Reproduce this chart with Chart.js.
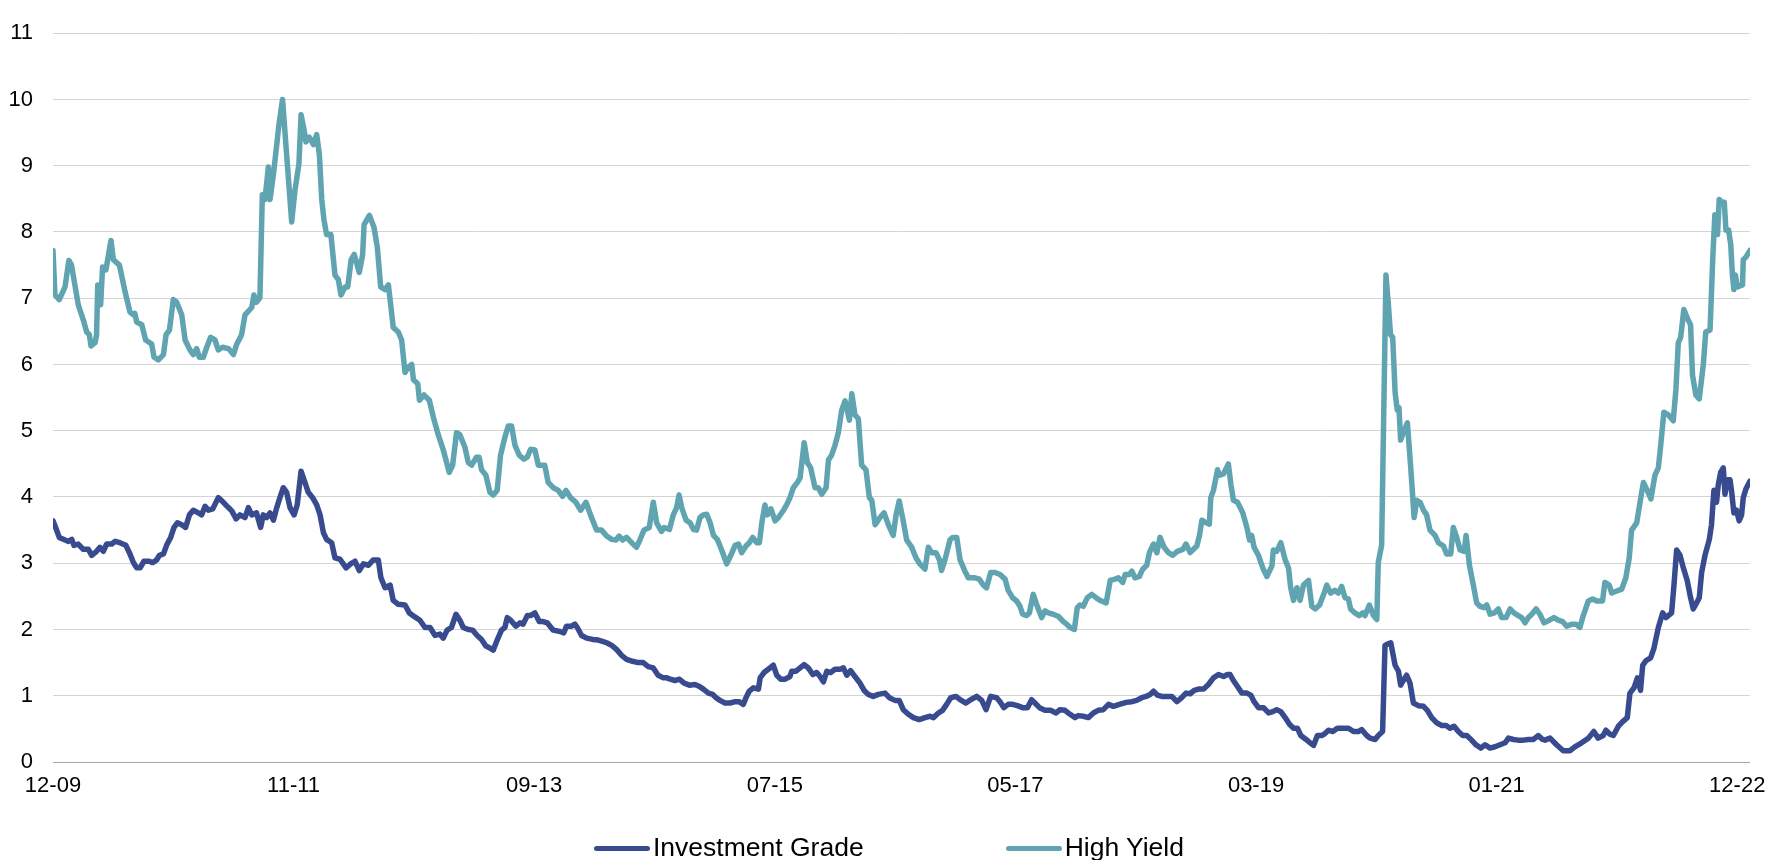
<!DOCTYPE html>
<html>
<head>
<meta charset="utf-8">
<script src="https://cdn.jsdelivr.net/npm/chart.js@4.4.1/dist/chart.umd.min.js"></script>
<style>
  html, body { margin: 0; padding: 0; background: #fff; }
  #wrap { position: relative; width: 1767px; height: 860px; }
  #legend { position: absolute; left: 594px; top: 832px; height: 30px; display: flex; align-items: center;
            font-family: "Liberation Sans", Arial, sans-serif; font-size: 26.5px; color: #000; }
  .item { display: flex; align-items: center; margin-right: 142px; }
  .item:last-child { margin-right: 0; }
  .swatch { width: 56px; height: 5px; border-radius: 3px; margin-right: 3px; margin-top: 2px; }
</style>
</head>
<body>
<div id="wrap">
  <canvas id="myChart" width="1767" height="860"></canvas>
  <div id="legend"></div>
</div>
<script>
// x = week index from 12-09 (tick labels every 100 weeks)
const tickLabels = ["12-09", "11-11", "09-13", "07-15", "05-17", "03-19", "01-21", "12-22"];
const lastWeek = 705.3;

// Investment Grade
const igWeeks = [
  0, 1.5, 2.6, 5, 6.4, 7.8, 8.7, 10.5, 12.6, 14.7, 16.1, 18.1, 19.5, 20.9, 22.3, 24.4, 25.8, 27.8, 30.3, 32,
  33.4, 34.8, 36.2, 37.8, 40, 41.4, 43.1, 44.2, 45.9, 47.2, 48.9, 50.3, 51.7, 53.5, 55.1, 56.7, 58.3, 60.4, 61.8, 63.2,
  64.6, 66.4, 68.7, 70.8, 72.9, 74.3, 76.1, 77.7, 79.8, 81.2, 82.6, 84.6, 86.3, 87.4, 88.8, 90.2, 91.6, 93, 94.3, 95.7,
  97.1, 98.5, 100.2, 101.5, 103.1, 104.7, 106.1, 107.9, 109.6, 111, 112.4, 113.7, 115.8, 117.2, 119.3, 121.8, 123.7, 125.5, 127.3, 129,
  131.1, 133.1, 135.2, 136.3, 138, 140.1, 141.4, 143.5, 146.3, 148.1, 150.4, 152.5, 154.6, 156.7, 158.8, 160.8, 162.2, 163.8, 165.6, 167.5,
  169.1, 170.5, 172.6, 174.4, 176.3, 178.1, 179.9, 181.6, 183, 184.6, 186.4, 187.8, 188.8, 190.2, 192.4, 194.1, 195.4, 197.1, 198.5, 200.3,
  202.1, 203.7, 205.4, 207.9, 210.7, 212.3, 213.4, 215.5, 216.9, 217.9, 219.7, 221.8, 224.3, 226.6, 228.4, 230.1, 232.2, 234.2, 236.3, 238.4,
  240.9, 243.2, 245.3, 247.4, 249.5, 251.5, 253.7, 255.1, 256.5, 258.5, 260.3, 262.3, 264.5, 266.8, 268.7, 270.3, 272.4, 274.2, 275.6, 277.2,
  279.3, 281.4, 283.5, 285.1, 286.9, 288, 289.4, 291.1, 293.2, 293.9, 295.5, 297.3, 299.4, 300.8, 302.5, 304.3, 306.3, 307, 308.8, 310.5,
  312.2, 313.9, 315.8, 317.4, 318.8, 320.2, 321.6, 323.2, 325, 327.1, 328.5, 329.9, 331.5, 333.3, 335.4, 337.1, 338.9, 340.9, 343, 345.8,
  347.6, 349.9, 351.7, 353.4, 355.5, 357.6, 360, 362.4, 364.5, 365.9, 368, 369.7, 371.4, 373.1, 375.3, 377, 379.4, 381.4, 383.9, 386,
  387.8, 389.7, 392.2, 393.6, 395.2, 397, 398.8, 400.8, 403, 405, 406.7, 408.1, 410, 412.3, 414.6, 416.9, 418.5, 420.6, 422.7, 424.7,
  426.1, 428.2, 430.3, 432.4, 434.4, 436.5, 438.7, 440.7, 443.2, 446, 448.4, 450.4, 452.5, 454.3, 456, 457.4, 459, 460.8, 462.9, 465,
  467.1, 469.1, 470.9, 472.6, 474.3, 476.1, 478.2, 480.2, 482.3, 484.4, 486.5, 488.1, 489.2, 490.6, 492.3, 494.1, 496.2, 497.8, 499.2, 501,
  503.1, 505.2, 507, 508.6, 510.3, 512.1, 513.9, 515.6, 517.2, 518.6, 520.8, 522.5, 523.9, 525.5, 527.3, 528.3, 530.1, 531.9, 533.8, 536,
  538.4, 540.5, 542.5, 543.9, 546, 547.4, 549.5, 550.8, 552.6, 553.6, 554.7, 556, 557.8, 559.2, 560.1, 561.2, 562.6, 564, 565.4, 567.5,
  569.6, 571.2, 573, 575.1, 577.2, 579, 580.6, 582.3, 584.1, 585.9, 587.6, 589.6, 591.4, 593.4, 595.2, 597.3, 599.3, 601.4, 603.5, 604.9,
  607, 609, 611.1, 613.2, 615.3, 617.3, 619.1, 620.1, 622.2, 624.9, 627.7, 630.5, 632.5, 635.3, 638.1, 640.4, 642.2, 644.3, 645.4, 647.1,
  648.5, 650.6, 652.4, 654.3, 655.4, 657.1, 658.5, 659.8, 660.7, 662.1, 664, 665.4, 667.2, 669, 670.4, 672.7, 673.7, 674.8, 676.2, 677.6,
  679.2, 680.6, 681.7, 683.1, 684.2, 685.2, 686.6, 688.4, 689.3, 690.3, 691.4, 692.1, 693.1, 694.2, 694.9, 695.9, 697, 697.7, 698.6, 699.7,
  700.8, 701.8, 702.5, 703.6, 705.3
];
const igSpread = [
  3.64, 3.5, 3.39, 3.35, 3.33, 3.36, 3.27, 3.29, 3.21, 3.21, 3.12, 3.18, 3.24, 3.18, 3.29, 3.29, 3.33, 3.31, 3.27, 3.14,
  3.01, 2.93, 2.93, 3.03, 3.03, 3.01, 3.05, 3.12, 3.14, 3.27, 3.39, 3.54, 3.61, 3.58, 3.54, 3.73, 3.8, 3.76, 3.73, 3.86,
  3.8, 3.82, 3.99, 3.92, 3.84, 3.79, 3.67, 3.73, 3.69, 3.84, 3.73, 3.76, 3.54, 3.73, 3.69, 3.76, 3.65, 3.84, 3.99, 4.14,
  4.07, 3.84, 3.73, 3.88, 4.39, 4.22, 4.07, 3.99, 3.88, 3.73, 3.46, 3.36, 3.31, 3.08, 3.06, 2.93, 2.99, 3.03, 2.89, 2.99,
  2.97, 3.05, 3.05, 2.78, 2.63, 2.67, 2.44, 2.38, 2.37, 2.25, 2.19, 2.14, 2.03, 2.03, 1.91, 1.93, 1.87, 1.99, 2.03, 2.23,
  2.14, 2.03, 2.0, 1.99, 1.91, 1.85, 1.75, 1.72, 1.69, 1.84, 1.99, 2.03, 2.18, 2.14, 2.05, 2.1, 2.08, 2.21, 2.21, 2.25,
  2.12, 2.12, 2.1, 1.99, 1.97, 1.95, 2.05, 2.05, 2.08, 2.03, 1.91, 1.87, 1.85, 1.84, 1.82, 1.8, 1.76, 1.7, 1.61, 1.55,
  1.52, 1.5, 1.5, 1.44, 1.42, 1.31, 1.27, 1.27, 1.25, 1.23, 1.25, 1.19, 1.16, 1.17, 1.14, 1.1, 1.04, 1.02, 0.97, 0.93,
  0.89, 0.89, 0.91, 0.91, 0.87, 0.97, 1.07, 1.12, 1.1, 1.27, 1.35, 1.4, 1.46, 1.31, 1.25, 1.25, 1.29, 1.37, 1.37, 1.42,
  1.47, 1.42, 1.32, 1.35, 1.29, 1.21, 1.37, 1.35, 1.4, 1.4, 1.42, 1.31, 1.38, 1.29, 1.19, 1.08, 1.02, 0.99, 1.02, 1.04,
  0.97, 0.93, 0.93, 0.79, 0.72, 0.67, 0.64, 0.67, 0.69, 0.67, 0.74, 0.78, 0.87, 0.97, 0.99, 0.94, 0.89, 0.94, 0.99, 0.93,
  0.79, 0.99, 0.97, 0.91, 0.82, 0.87, 0.87, 0.85, 0.82, 0.82, 0.94, 0.89, 0.82, 0.78, 0.78, 0.74, 0.79, 0.78, 0.72, 0.67,
  0.7, 0.69, 0.67, 0.74, 0.78, 0.79, 0.87, 0.84, 0.87, 0.9, 0.91, 0.93, 0.97, 0.99, 1.02, 1.07, 1.01, 0.99, 0.99, 0.99,
  0.91, 0.97, 1.04, 1.03, 1.08, 1.1, 1.1, 1.17, 1.27, 1.32, 1.29, 1.32, 1.32, 1.23, 1.14, 1.04, 1.04, 1.01, 0.91, 0.82,
  0.82, 0.74, 0.76, 0.79, 0.76, 0.67, 0.57, 0.51, 0.51, 0.4, 0.34, 0.29, 0.25, 0.4, 0.4, 0.42, 0.48, 0.46, 0.51, 0.51,
  0.51, 0.46, 0.46, 0.49, 0.4, 0.36, 0.34, 0.4, 0.46, 1.76, 1.78, 1.8, 1.46, 1.37, 1.16, 1.23, 1.31, 1.19, 0.89, 0.85,
  0.84, 0.78, 0.67, 0.59, 0.55, 0.55, 0.51, 0.54, 0.46, 0.4, 0.4, 0.33, 0.26, 0.21, 0.26, 0.21, 0.23, 0.26, 0.29, 0.36,
  0.34, 0.33, 0.33, 0.34, 0.34, 0.4, 0.34, 0.33, 0.36, 0.26, 0.17, 0.17, 0.23, 0.29, 0.36, 0.46, 0.36, 0.4, 0.48, 0.42,
  0.4, 0.54, 0.61, 0.67, 1.04, 1.12, 1.27, 1.08, 1.46, 1.53, 1.57, 1.72, 2.03, 2.25, 2.18, 2.25, 2.67, 3.2, 3.12, 2.93,
  2.74, 2.48, 2.31, 2.4, 2.48, 2.86, 3.12, 3.36, 3.58, 4.1, 3.92, 4.18, 4.37, 4.44, 4.04, 4.26, 4.26, 4.07, 3.76, 3.8,
  3.64, 3.73, 3.99, 4.12, 4.24
];

// High Yield
const hyWeeks = [
  0, 0.8, 2.6, 5, 6.6, 7.7, 10.5, 12.6, 14, 15.1, 15.8, 17.5, 18.1, 18.6, 19.3, 19.8, 20.6, 22, 24.1, 25.1,
  27.6, 30, 32, 33.4, 34, 34.8, 36.9, 38.5, 41, 42, 43.8, 45.9, 47, 48.4, 50, 51.4, 53.5, 54.9, 56.9, 58.3,
  59.7, 60.8, 62.5, 63.9, 65.5, 67.3, 68.7, 70.5, 72.9, 75, 76.3, 78.4, 79.8, 82.6, 83.5, 84.6, 86, 87, 88.1, 89.5,
  90.2, 91.6, 93, 93.9, 95.4, 97.1, 99.2, 100.6, 102.2, 103.1, 104.3, 105.1, 106.5, 108.2, 109.6, 110.7, 111.7, 112.6, 113.7, 115.5,
  117.2, 118.6, 119.7, 121.4, 122.5, 123.9, 125.2, 127.3, 128.7, 129.3, 131.5, 133.4, 134.8, 136.2, 138, 139.4, 140.1, 141.4, 143.5, 144.9,
  146.3, 147.7, 149.1, 149.8, 151.6, 152.3, 154.2, 156.4, 158.1, 160.1, 162.2, 164.7, 166.1, 167.7, 169.1, 171.2, 172.6, 174, 176, 177.1,
  178.1, 179.9, 181.6, 183, 184.6, 186, 187.8, 189.2, 190.6, 192, 193.8, 195.7, 197.1, 198.5, 200.3, 201.7, 203.1, 204.4, 205.8, 207.9,
  210, 211.8, 213.2, 215.1, 217.3, 219.3, 221.5, 223.4, 225.9, 228, 230.1, 232.2, 234, 235.3, 236.7, 238.4, 240.5, 242.5, 243.9, 245.6,
  247.8, 249.5, 250.9, 252.9, 254, 256.2, 257.8, 259.2, 260.2, 261.3, 263.1, 264.8, 266.2, 267.5, 268.9, 270.3, 271.7, 273.1, 274.5, 276.1,
  277.9, 280, 281.7, 283.5, 284.9, 286.2, 288, 289.4, 290.8, 292.5, 293.6, 294.6, 295.9, 296.9, 298.4, 300.1, 301.5, 303.6, 304.9, 306.3,
  307.7, 309.4, 310.5, 312.2, 313.5, 314.9, 316.7, 318.1, 319.5, 321.3, 322.3, 323.6, 325, 326.4, 327.8, 329.2, 331, 332, 333.3, 334.7,
  336.1, 337.9, 339.3, 340.3, 341.7, 343.7, 345.4, 347.2, 349.2, 350.4, 351.7, 353.1, 354.8, 356.9, 358.7, 360.3, 362.4, 363.8, 365.2, 367,
  368.4, 369.3, 370.7, 372.8, 373.9, 375.6, 377, 379, 380.4, 383.2, 385, 386.6, 388, 389.7, 391.5, 393.6, 395.7, 397, 398.8, 400.5,
  401.9, 403, 404.7, 405.8, 407.4, 409.1, 410.9, 412.3, 413.7, 415.7, 417.8, 419.9, 421.3, 422.7, 424.5, 425.7, 426.8, 428.2, 429.9, 431.7,
  433.5, 435.1, 437.7, 439.4, 441.4, 442.8, 444.6, 445.6, 447.4, 448.4, 449.7, 451.5, 452.9, 454.6, 455.7, 457.4, 458.8, 460.1, 461.8, 463.6,
  465.4, 467.3, 469.6, 470.9, 472.6, 474, 475.4, 476.5, 477.5, 479.3, 480.6, 481.2, 482.3, 484, 484.8, 486.5, 488.5, 489.6, 490.6, 492.3,
  494.5, 496.2, 497.3, 498.2, 499.2, 501, 502.8, 504.5, 506.6, 507.2, 508.6, 510.3, 512.1, 513.5, 514.4, 515.6, 517, 518.3, 519.7, 521.8,
  523.2, 524.6, 526.4, 528, 529.4, 531, 532.8, 534.2, 535.6, 537, 538.4, 539.3, 541.1, 542.9, 544.3, 545.3, 547.1, 548.8, 550.2, 550.8,
  552.2, 554, 555, 555.9, 556.8, 557.8, 558.7, 559.4, 560.1, 561.2, 562.9, 564.3, 565.7, 566.8, 568.2, 569.6, 570.9, 572.3, 574.4, 575.8,
  577.9, 579.2, 580.9, 582, 583.4, 584.8, 586.5, 587.3, 588.7, 590.3, 591.7, 593.1, 594.8, 595.9, 597.3, 599, 600.7, 602.1, 603.9, 605.6,
  607.2, 609, 610.4, 611.8, 613.2, 614.6, 616.4, 618, 619.7, 621.9, 623.8, 625.6, 627.4, 629.1, 631.2, 633, 634.6, 636, 638.1, 639.9,
  641.6, 644, 645, 646.8, 647.8, 649.9, 652, 653.7, 655.1, 656.1, 658.2, 659.6, 661, 662.6, 664.1, 665.8, 667.2, 668.2, 669.5, 671.3,
  673.4, 674.5, 675.5, 676.5, 677.8, 679.6, 680.6, 681.4, 682.8, 684.2, 685.9, 686.9, 688.7, 689.8, 690.7, 691.3, 691.8, 692.5, 693.6, 694.6,
  695.3, 696.4, 697.3, 698, 698.6, 699.2, 700.1, 702.2, 702.5, 703.6, 705.3
];
const hySpread = [
  7.72, 7.05, 6.98, 7.17, 7.57, 7.5, 6.9, 6.67, 6.49, 6.45, 6.28, 6.33, 6.45, 7.2, 7.17, 6.9, 7.47, 7.43, 7.87, 7.58,
  7.5, 7.09, 6.79, 6.75, 6.77, 6.64, 6.6, 6.37, 6.31, 6.11, 6.07, 6.15, 6.45, 6.52, 6.98, 6.94, 6.75, 6.37, 6.22, 6.15,
  6.24, 6.11, 6.11, 6.26, 6.41, 6.37, 6.22, 6.26, 6.24, 6.15, 6.3, 6.45, 6.75, 6.86, 7.05, 6.94, 7.01, 8.56, 8.49, 8.98,
  8.49, 8.87, 9.32, 9.62, 10.0, 9.17, 8.15, 8.64, 9.02, 9.77, 9.55, 9.36, 9.43, 9.32, 9.47, 9.17, 8.49, 8.19, 7.96, 7.96,
  7.35, 7.28, 7.05, 7.17, 7.17, 7.58, 7.66, 7.39, 7.66, 8.11, 8.25, 8.07, 7.77, 7.17, 7.13, 7.2, 6.98, 6.56, 6.49, 6.37,
  5.88, 5.96, 6.0, 5.77, 5.71, 5.46, 5.54, 5.46, 5.2, 4.94, 4.71, 4.37, 4.48, 4.97, 4.94, 4.75, 4.52, 4.48, 4.6, 4.6,
  4.41, 4.33, 4.07, 4.03, 4.1, 4.63, 4.9, 5.07, 5.07, 4.78, 4.63, 4.57, 4.6, 4.72, 4.71, 4.48, 4.48, 4.48, 4.22, 4.14,
  4.1, 4.01, 4.1, 3.99, 3.92, 3.8, 3.92, 3.73, 3.5, 3.5, 3.41, 3.36, 3.35, 3.41, 3.35, 3.39, 3.31, 3.24, 3.35, 3.5,
  3.54, 3.92, 3.61, 3.48, 3.54, 3.51, 3.73, 3.84, 4.03, 3.84, 3.65, 3.61, 3.51, 3.5, 3.69, 3.73, 3.74, 3.61, 3.42, 3.36,
  3.2, 2.99, 3.12, 3.27, 3.29, 3.16, 3.26, 3.31, 3.39, 3.31, 3.31, 3.61, 3.88, 3.73, 3.82, 3.64, 3.69, 3.8, 3.88, 3.99,
  4.14, 4.22, 4.29, 4.82, 4.52, 4.44, 4.14, 4.14, 4.04, 4.14, 4.56, 4.63, 4.78, 4.97, 5.31, 5.45, 5.16, 5.56, 5.24, 5.18,
  4.48, 4.41, 3.99, 3.95, 3.58, 3.69, 3.76, 3.58, 3.42, 3.73, 3.94, 3.69, 3.35, 3.24, 3.08, 2.99, 2.91, 3.24, 3.16, 3.16,
  3.05, 2.89, 3.05, 3.35, 3.39, 3.39, 3.05, 2.88, 2.78, 2.78, 2.76, 2.67, 2.63, 2.86, 2.86, 2.83, 2.76, 2.59, 2.48, 2.43,
  2.35, 2.23, 2.21, 2.25, 2.53, 2.35, 2.18, 2.28, 2.25, 2.23, 2.2, 2.12, 2.08, 2.03, 2.0, 2.33, 2.37, 2.35, 2.48, 2.53,
  2.48, 2.44, 2.4, 2.74, 2.76, 2.78, 2.71, 2.83, 2.83, 2.88, 2.78, 2.8, 2.91, 2.97, 3.16, 3.29, 3.16, 3.39, 3.24, 3.16,
  3.12, 3.18, 3.21, 3.29, 3.16, 3.21, 3.26, 3.42, 3.65, 3.61, 3.59, 3.99, 4.1, 4.41, 4.33, 4.35, 4.5, 4.18, 3.95, 3.92,
  3.76, 3.54, 3.35, 3.42, 3.24, 3.12, 2.93, 2.8, 2.96, 3.2, 3.18, 3.31, 3.05, 2.93, 2.63, 2.44, 2.63, 2.44, 2.67, 2.74,
  2.35, 2.31, 2.37, 2.52, 2.67, 2.55, 2.59, 2.55, 2.65, 2.48, 2.46, 2.31, 2.25, 2.21, 2.25, 2.21, 2.37, 2.21, 2.15, 3.01,
  3.27, 7.35, 6.9, 6.45, 6.41, 5.58, 5.31, 5.35, 4.86, 4.97, 5.12, 4.44, 3.69, 3.95, 3.92, 3.8, 3.73, 3.5, 3.42, 3.31,
  3.26, 3.14, 3.14, 3.54, 3.39, 3.2, 3.18, 3.42, 2.97, 2.67, 2.4, 2.35, 2.33, 2.37, 2.23, 2.25, 2.31, 2.18, 2.18, 2.31,
  2.25, 2.21, 2.18, 2.1, 2.18, 2.23, 2.31, 2.23, 2.1, 2.14, 2.18, 2.14, 2.12, 2.05, 2.08, 2.08, 2.03, 2.21, 2.43, 2.46,
  2.43, 2.43, 2.71, 2.67, 2.55, 2.58, 2.61, 2.78, 3.08, 3.5, 3.61, 3.92, 4.22, 4.1, 3.97, 4.33, 4.44, 4.78, 5.28, 5.24,
  5.15, 5.62, 6.33, 6.41, 6.83, 6.67, 6.6, 5.84, 5.54, 5.48, 6.0, 6.49, 6.52, 7.58, 8.26, 8.26, 7.96, 8.49, 8.45, 8.45,
  8.03, 8.03, 7.81, 7.35, 7.13, 7.35, 7.17, 7.2, 7.58, 7.62, 7.72
];

function toPoints(weeks, values) {
    return weeks.map(function (w, i) { return { x: w, y: values[i] }; });
}

const igColor = '#394B8F';
const hyColor = '#5FA4B0';

let ctx = document.getElementById('myChart').getContext('2d');
let myChart = new Chart(ctx, {
    type: 'line',
    data: {
        datasets: [{
            label: 'Investment Grade',
            data: toPoints(igWeeks, igSpread),
            borderColor: igColor,
            backgroundColor: igColor,
            borderWidth: 5.5,
            pointRadius: 0,
            tension: 0,
            borderJoinStyle: 'round',
            borderCapStyle: 'round'
        }, {
            label: 'High Yield',
            data: toPoints(hyWeeks, hySpread),
            borderColor: hyColor,
            backgroundColor: hyColor,
            borderWidth: 5.5,
            pointRadius: 0,
            tension: 0,
            borderJoinStyle: 'round',
            borderCapStyle: 'round'
        }]
    },
    options: {
        responsive: false,
        animation: false,
        layout: { padding: { top: 20, left: 0, right: 17, bottom: 50 } },
        plugins: {
            legend: { display: false },
            tooltip: { enabled: false }
        },
        scales: {
            x: {
                type: 'linear',
                min: 0,
                max: lastWeek,
                grid: { display: false, drawTicks: false },
                border: { display: false },
                afterBuildTicks: function (axis) {
                    axis.ticks = tickLabels.map(function (l, i) { return { value: i * 100 }; });
                },
                ticks: {
                    autoSkip: false,
                    maxRotation: 0,
                    padding: 0,
                    color: '#000',
                    font: { family: "'Liberation Sans', Arial, sans-serif", size: 22, lineHeight: '48px' },
                    callback: function (value) { return tickLabels[Math.round(value / 100)]; }
                }
            },
            y: {
                min: 0,
                max: 11,
                afterFit: function (scale) { scale.width = 53; },
                ticks: {
                    stepSize: 1,
                    padding: 20,
                    color: '#000',
                    font: { family: "'Liberation Sans', Arial, sans-serif", size: 22 }
                },
                grid: {
                    drawTicks: false,
                    lineWidth: 1,
                    color: function (c) { return c.tick && c.tick.value === 0 ? '#a6a6a6' : '#d4d4d4'; }
                },
                border: { display: false }
            }
        }
    }
});

// legend below the plot
const legendEl = document.getElementById('legend');
myChart.data.datasets.forEach(function (ds) {
    const item = document.createElement('div');
    item.className = 'item';
    const sw = document.createElement('span');
    sw.className = 'swatch';
    sw.style.background = ds.borderColor;
    const txt = document.createElement('span');
    txt.textContent = ds.label;
    item.appendChild(sw);
    item.appendChild(txt);
    legendEl.appendChild(item);
});
</script>
</body>
</html>
